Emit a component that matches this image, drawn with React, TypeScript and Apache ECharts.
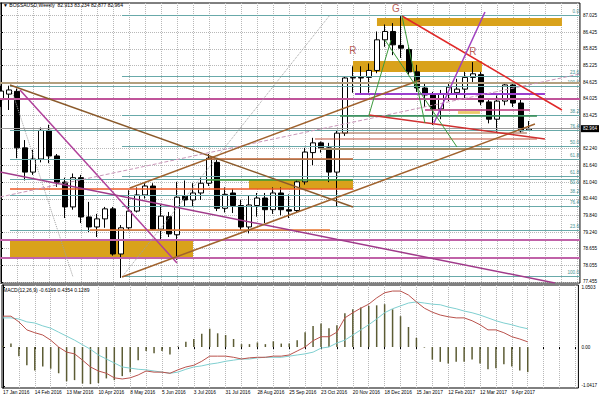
import React, { useEffect, useRef } from 'react';
import * as echarts from 'echarts';

// ---- time axis ----
const weekLabels = ['17 Jan 2016','14 Feb 2016','13 Mar 2016','10 Apr 2016','8 May 2016','5 Jun 2016','3 Jul 2016','31 Jul 2016','28 Aug 2016','25 Sep 2016','23 Oct 2016','20 Nov 2016','18 Dec 2016','15 Jan 2017','12 Feb 2017','12 Mar 2017','9 Apr 2017'];
const labelWeeks = weekLabels.map((_, k) => k * 4);
const gridWeeks = Array.from({ length: 37 }, (_, k) => k * 2);

// ---- weekly OHLC ----
const opens = [84.0,84.2,84.3,82.27,81.4,81.87,82.9,81.98,81.04,80.15,81.2,79.79,79.43,79.72,80.08,78.46,79.4,80.0,80.58,80.9,79.35,79.8,79.15,80.55,80.4,80.65,81.0,81.75,80.1,80.65,80.2,79.43,80.2,80.47,80.05,80.65,80.05,80.02,81.05,82.1,82.45,82.27,81.4,82.8,84.78,84.8,84.8,85.05,86.15,86.45,85.95,85.8,85.0,84.42,84.17,83.67,84.2,84.25,84.38,84.8,84.9,83.92,83.3,83.95,84.53,83.88,82.913];
const highs = [84.5,84.5,84.4,82.55,82.2,83.0,83.1,82.05,81.2,81.35,81.3,80.33,79.9,80.15,80.15,79.5,80.75,80.85,81.0,81.0,80.22,79.97,81.05,81.1,81.0,81.2,82.05,81.85,80.85,80.8,80.4,80.55,80.65,80.65,80.85,80.85,80.6,81.15,82.27,82.63,82.5,82.45,82.9,84.85,85.2,85.2,85.3,86.45,86.7,86.75,87.0,85.95,85.25,84.6,84.28,84.35,84.6,84.75,85.0,85.35,85.0,84.05,84.15,84.6,84.6,84.0,83.234];
const lows = [83.74,83.63,81.9,81.1,81.3,81.75,81.72,80.87,79.75,80.05,79.57,79.25,79.07,79.4,78.4,77.6,79.3,79.95,80.45,79.3,78.95,79.07,78.25,80.15,80.15,80.4,80.9,80.0,79.95,79.93,79.3,79.2,79.8,79.57,79.9,79.85,79.75,79.95,80.95,81.65,82.1,81.04,80.15,82.7,84.25,84.2,84.25,84.95,85.9,85.6,85.5,84.9,84.28,83.74,83.09,83.3,83.95,84.0,84.05,84.6,83.8,83.15,82.85,83.8,83.74,82.82,82.877];
const closes = [84.31,84.35,82.27,81.4,81.87,82.9,81.98,81.04,80.15,81.2,79.79,79.43,79.72,80.08,78.46,79.4,80.0,80.58,80.9,79.35,79.82,79.18,80.5,80.4,80.65,81.0,81.9,80.1,80.6,80.2,79.43,80.22,80.47,80.05,80.65,80.05,80.0,81.05,82.12,82.45,82.27,81.4,82.8,84.78,84.8,84.78,85.05,86.15,86.45,85.97,85.85,85.0,84.42,84.17,83.67,84.2,84.45,84.38,84.8,84.93,83.92,83.3,83.95,84.53,83.88,82.88,82.964];

// ---- MACD ----
const macdHist = [0.02,0.06,-0.16,-0.32,-0.41,-0.34,-0.38,-0.46,-0.60,-0.58,-0.64,-0.65,-0.63,-0.55,-0.58,-0.51,-0.44,-0.23,-0.07,-0.11,-0.07,-0.13,0.01,0.09,0.14,0.23,0.32,0.24,0.21,0.14,0.05,0.05,0.08,0.05,0.10,0.06,0.06,0.12,0.26,0.37,0.41,0.33,0.38,0.59,0.66,0.69,0.72,0.73,0.75,0.66,0.54,0.35,0.16,-0.01,-0.22,-0.26,-0.29,-0.26,-0.26,-0.22,-0.29,-0.39,-0.37,-0.30,-0.34,-0.41,-0.44];
const macdRed = [0.54,0.54,0.44,0.30,0.25,0.21,0.12,0.00,-0.09,-0.12,-0.23,-0.35,-0.42,-0.46,-0.54,-0.56,-0.54,-0.49,-0.42,-0.44,-0.44,-0.46,-0.40,-0.35,-0.32,-0.25,-0.16,-0.16,-0.16,-0.18,-0.21,-0.19,-0.18,-0.18,-0.16,-0.16,-0.14,-0.07,0.00,0.11,0.18,0.18,0.26,0.51,0.60,0.68,0.75,0.86,0.95,0.98,0.98,0.91,0.79,0.68,0.61,0.56,0.53,0.51,0.51,0.46,0.39,0.30,0.30,0.25,0.18,0.14,0.09];
const macdBlue = [0.51,0.51,0.49,0.44,0.42,0.37,0.33,0.26,0.19,0.12,0.04,-0.04,-0.14,-0.21,-0.28,-0.35,-0.37,-0.39,-0.40,-0.42,-0.44,-0.46,-0.44,-0.39,-0.35,-0.33,-0.30,-0.28,-0.25,-0.23,-0.21,-0.21,-0.19,-0.18,-0.18,-0.18,-0.16,-0.14,-0.12,-0.09,-0.02,0.00,0.07,0.12,0.21,0.30,0.39,0.49,0.60,0.67,0.72,0.77,0.79,0.77,0.75,0.74,0.70,0.67,0.63,0.60,0.56,0.51,0.46,0.42,0.39,0.35,0.32];

// ---- axis ticks ----
const priceTicks = [87.025,86.425,85.825,85.225,84.625,84.025,83.425,82.240,81.640,81.040,80.440,79.840,79.240,78.655,78.055,77.455];
const macdTicks = [1.05, 0, -0.68];
const macdTickLabels = ['1.0503', '0.00', '-1.0417'];
const lastPrice = 82.964;
const titleText = '▼ BOSSAUSD,Weekly  82.913 83.234 82.877 82.964';
const macdTitle = 'MACD(12,26,9) -0.6169 0.4354 0.1289';

// ---- drawings: fibonacci levels [label, price] ----
const fibAStart = 15.125;
const fibA: [string, number][] = [['0.0',87.041],['23.6',84.851],['38.2',83.450],['50.0',82.337],['61.8',81.260],['76.4',80.183],['100.0',77.669]];
const fibBStart = 1.125;
const fibB: [string, number][] = [['100.0',84.492],['76.4',82.912],['61.8',81.871],['50.0',81.153],['38.2',80.578],['23.6',79.321]];

// horizontal segments [startWeek, endWeek, price]
const levelLines: [number, number, number][] = [
  [-0.125,72.375,84.600],[-0.125,72.375,84.025],[44.25,68,84.205],[53,66.125,83.630],
  [42.375,67,83.415],[42.375,65.75,82.804],[39.25,67,82.589],[39.875,61.125,82.230],
  [25.75,44,81.871],[25.75,44,81.117],[1.125,44,80.793],[11.125,41.125,79.321],
  [-0.125,72.375,78.962],[-0.125,72.375,78.316],
];
const levelStyles: [string, number][] = [
  ['#b3a07f',2],['#c0549a',2],['#9b3fcf',2],['#b8347a',1.5],
  ['#2f8a4f',1.5],['#9a5a3a',1],['#c0503a',1],['#a8906a',2],
  ['#c0602e',1.5],['#3a9a3a',1.5],['#ee5a28',1.5],['#e8742e',1.5],
  ['#c062a8',2],['#c062a8',2],
];

// trend lines [[week, price],[week, price]]
const trendLines: [[number, number],[number, number]][] = [
  [[1.125,84.528],[44,80.147]],
  [[2.375,84.348],[22,78.136]],
  [[-0.125,81.404],[69.25,77.418]],
  [[-0.125,80.506],[72.375,84.923]],
  [[1.375,84.312],[9,77.634]],
  [[15.125,77.634],[41.125,87.041]],
  [[15.125,77.634],[66.75,83.127]],
  [[16.125,80.829],[52.375,84.707]],
  [[50.125,87.005],[70.125,83.630]],
  [[46,83.450],[68,82.589]],
  [[54.125,83.163],[60.5,87.149]],
  [[46,83.450],[48.75,86.143]],
  [[48,86.143],[57,82.302]],
  [[50.125,87.005],[53,83.163]],
];
const trendStyles: [string, number, string][] = [
  ['#8b5a2b',1.5,'solid'],['#b0409a',1.5,'solid'],['#a03a8a',1.5,'solid'],['#c896b8',1,'dashed'],
  ['#a0a0a0',1,'dotted'],['#a0a0a0',1,'dotted'],['#a0622d',1.5,'solid'],['#a0622d',1.5,'solid'],
  ['#e02828',1.5,'solid'],['#d03030',1.5,'solid'],['#a040c0',1.5,'solid'],
  ['#3c9a3c',1,'solid'],['#3c9a3c',1,'solid'],['#3c9a3c',1,'solid'],
];

// zones [startWeek, endWeek, top, bottom]
const zones: [number, number, number, number][] = [
  [1.125,24,78.962,78.316],[31,44,81.117,80.793],[44,60.125,85.389,84.994],[47,70.125,86.933,86.646],[57.125,59.875,83.59,83.49],
];
const zoneColors = ['#d9a21b','#d9a21b','#d9a21b','#d9a21b','#ecc96a'];

// pattern marks [text, week, price]
const patternMarks: [string, number, number][] = [['G',49.375,87.257],['R',44,85.784],['R',59,85.748]];

const X_MIN = -0.125, X_MAX = 72.375;
const P_MIN = 77.418, P_MAX = 87.472;
const M_MIN = -0.718, M_MAX = 1.086;
const FONT = 'Liberation Sans';
const SMALL = 4.6;

export default function App() {
  const ref = useRef<HTMLDivElement>(null);
  useEffect(() => {
    if (!ref.current) return;
    const chart = echarts.init(ref.current, undefined, { renderer: 'svg' });
    const fibMark = (start: number, list: [string, number][], below: string[]) => list.map(([lab, p]) => [
      { coord: [start, p], label: { formatter: lab, position: below.includes(lab) ? 'insideEndBottom' : 'insideEndTop' } },
      { coord: [X_MAX, p] },
    ]);
    const series: any[] = [
      {
        type: 'candlestick', xAxisIndex: 0, yAxisIndex: 0, z: 4, barWidth: 5,
        data: opens.map((o, i) => [i, o, closes[i], lows[i], highs[i]]),
        encode: { x: 0, y: [1, 2, 3, 4] },
        itemStyle: { color: '#fff', color0: '#000', borderColor: '#000', borderColor0: '#000', borderWidth: 1 },
        markArea: {
          silent: true,
          data: zones.map(([a, b, t, btm], k) => [
            { coord: [a, t], itemStyle: { color: zoneColors[k], opacity: 1 } },
            { coord: [b, btm] },
          ]),
        },
        markLine: {
          silent: true, symbol: 'none', z: 5,
          lineStyle: { color: '#68a9a9', width: 1, type: 'solid' },
          label: { show: true, position: 'insideEndTop', fontSize: SMALL, color: '#3f8f8f', distance: 1, fontFamily: FONT },
          data: [
            ...fibMark(fibAStart, fibA, []),
            ...fibMark(fibBStart, fibB, ['50.0']),
            {
              yAxis: lastPrice,
              lineStyle: { color: '#9a9a9a', width: 1 },
              label: { position: 'end', formatter: lastPrice.toFixed(3), backgroundColor: '#000', color: '#fff', padding: [1, 2], distance: 1, fontSize: SMALL },
            },
          ],
        },
      },
      ...levelLines.map(([a, b, p], k) => ({
        type: 'line', xAxisIndex: 0, yAxisIndex: 0, z: 5, silent: true, symbol: 'none',
        data: [[a, p], [b, p]],
        lineStyle: { color: levelStyles[k][0], width: levelStyles[k][1] },
      })),
      ...trendLines.map(([s, e], k) => ({
        type: 'line', xAxisIndex: 0, yAxisIndex: 0, z: 6, silent: true, symbol: 'none',
        data: [s, e],
        lineStyle: { color: trendStyles[k][0], width: trendStyles[k][1], type: trendStyles[k][2] },
      })),
      {
        type: 'scatter', xAxisIndex: 0, yAxisIndex: 0, z: 7, symbolSize: 0, silent: true,
        itemStyle: { color: 'rgba(0,0,0,0)' },
        data: patternMarks.map(([t, w, p]) => ({ name: t, value: [w, p] })),
        label: { show: true, position: 'inside', formatter: '{b}', fontSize: 10, color: '#a8342c', fontFamily: FONT },
      },
      {
        type: 'bar', xAxisIndex: 1, yAxisIndex: 1, barWidth: 1.5,
        data: macdHist.map((v, i) => [i, v]),
        itemStyle: { color: '#5c5c34' },
      },
      {
        type: 'line', xAxisIndex: 1, yAxisIndex: 1, symbol: 'none',
        data: macdBlue.map((v, i) => [i, v]),
        lineStyle: { color: '#7fcfd0', width: 1 },
      },
      {
        type: 'line', xAxisIndex: 1, yAxisIndex: 1, symbol: 'none',
        data: macdRed.map((v, i) => [i, v]),
        lineStyle: { color: '#b9524c', width: 1 },
      },
    ];

    chart.setOption({
      animation: false,
      backgroundColor: '#fff',
      grid: [
        { left: 0, top: 3, width: 580, height: 280, show: true, borderColor: '#000', borderWidth: 1 },
        { left: 0, top: 285, width: 580, height: 103, show: true, borderColor: '#000', borderWidth: 1 },
      ],
      xAxis: [0, 1].map((g) => ({
        type: 'value', gridIndex: g, min: X_MIN, max: X_MAX,
        axisLine: { show: false },
        axisTick: { show: g === 1, customValues: gridWeeks, length: 2, lineStyle: { color: '#000' } },
        axisLabel: {
          show: g === 1, customValues: labelWeeks, align: 'left', fontSize: 4.8, margin: 2, color: '#000', fontFamily: FONT,
          formatter: (v: number) => weekLabels[Math.round(v / 4)] ?? '',
        },
        splitLine: { show: true, lineStyle: { color: '#b8b8b8', type: 'dotted', width: 1 } },
      })),
      yAxis: [
        {
          type: 'value', gridIndex: 0, position: 'right', min: P_MIN, max: P_MAX,
          axisLine: { show: true, lineStyle: { color: '#000' } },
          axisTick: { show: true, length: 2, customValues: priceTicks, lineStyle: { color: '#000' } },
          axisLabel: { customValues: priceTicks, formatter: (v: number) => v.toFixed(3), fontSize: SMALL, margin: 3, color: '#000', fontFamily: FONT },
          splitLine: { show: true, lineStyle: { color: '#b8b8b8', type: 'dotted', width: 1 } },
        },
        {
          type: 'value', gridIndex: 1, position: 'right', min: M_MIN, max: M_MAX,
          axisLine: { show: true, lineStyle: { color: '#000' } },
          axisTick: { show: true, length: 2, customValues: macdTicks, lineStyle: { color: '#000' } },
          axisLabel: {
            customValues: macdTicks, fontSize: SMALL, margin: 3, color: '#000', fontFamily: FONT,
            formatter: (v: number) => macdTickLabels[macdTicks.indexOf(v)] ?? '',
          },
          splitLine: { show: false },
        },
      ],
      graphic: [
        { type: 'text', left: 3, top: 2, z: 100, style: { text: titleText, fontSize: 5, fill: '#000', fontFamily: FONT } },
        { type: 'text', left: 3, top: 287, z: 100, style: { text: macdTitle, fontSize: 5, fill: '#000', fontFamily: FONT } },
      ],
      series,
    });
    return () => chart.dispose();
  }, []);
  return <div ref={ref} style={{ position: 'fixed', left: 0, top: 0, width: 600, height: 400, background: '#fff' }} />;
}
